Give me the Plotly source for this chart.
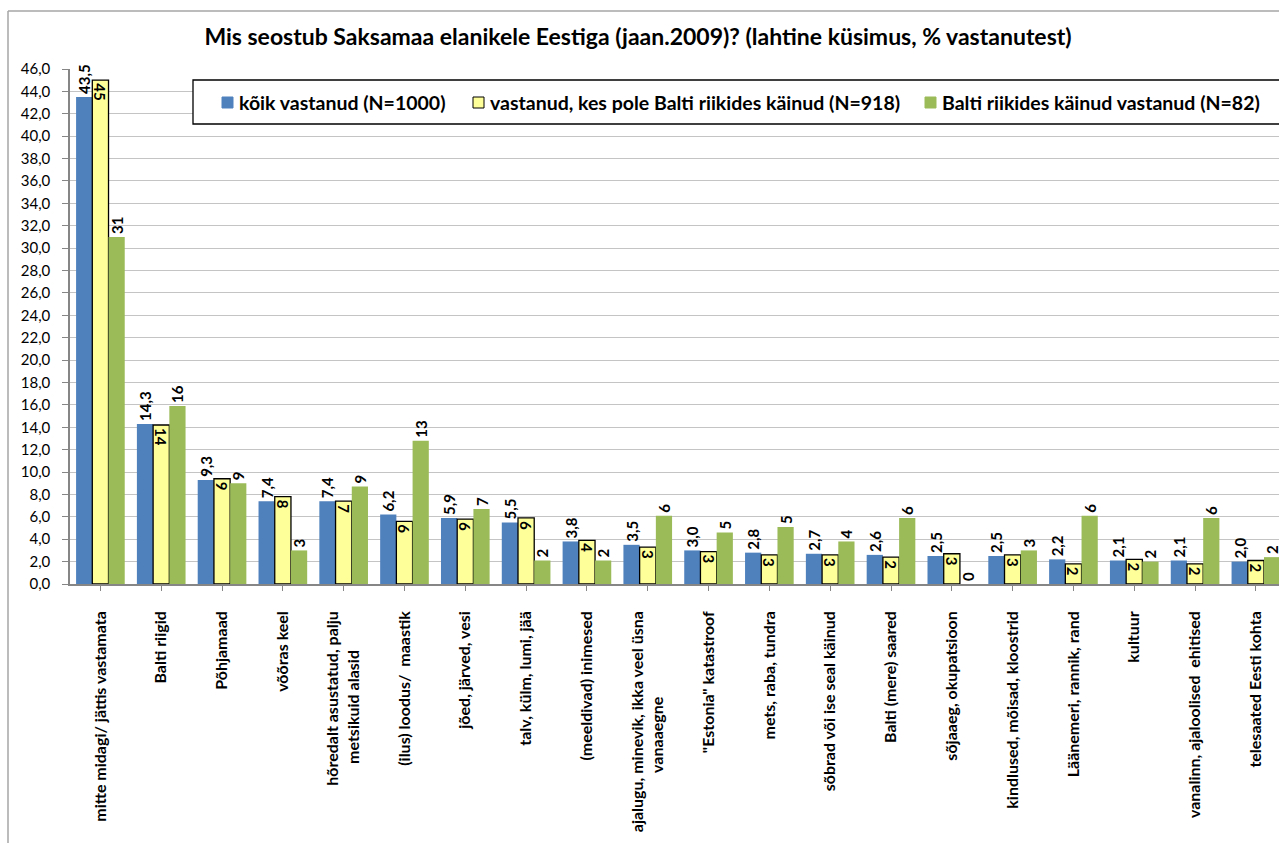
import plotly.graph_objects as go

categories = [
    "mitte midagi/ jättis vastamata",
    "Balti riigid",
    "Põhjamaad",
    "võõras keel",
    "hõredalt asustatud, palju<br>metsikuid alasid" + "\u00a0" * 10 + "\u200b",
    "(ilus) loodus/  maastik",
    "jõed, järved, vesi",
    "talv, külm, lumi, jää",
    "(meeldivad) inimesed",
    "ajalugu, minevik, ikka veel üsna<br>vanaaegne" + "\u00a0" * 22 + "\u200b",
    "\"Estonia\" katastroof",
    "mets, raba, tundra",
    "sõbrad või ise seal käinud",
    "Balti (mere) saared",
    "sõjaaeg, okupatsioon",
    "kindlused, mõisad, kloostrid",
    "Läänemeri, rannik, rand",
    "kultuur",
    "vanalinn, ajaloolised  ehitised",
    "telesaated Eesti kohta",
]

all_resp = [43.5, 14.3, 9.3, 7.4, 7.4, 6.2, 5.9, 5.5, 3.8, 3.5, 3.0, 2.8, 2.7, 2.6, 2.5, 2.5, 2.2, 2.1, 2.1, 2.0]
not_visited = [45.0, 14.2, 9.4, 7.8, 7.4, 5.6, 5.8, 5.9, 3.9, 3.3, 2.9, 2.6, 2.6, 2.4, 2.7, 2.6, 1.8, 2.2, 1.8, 2.1]
visited = [31.0, 15.9, 9.0, 3.0, 8.7, 12.8, 6.7, 2.1, 2.1, 6.1, 4.6, 5.1, 3.8, 5.9, 0.0, 3.0, 6.1, 2.0, 5.9, 2.4]

series_names = [
    "kõik vastanud (N=1000)",
    "vastanud, kes pole Balti riikides käinud (N=918)",
    "Balti riikides käinud vastanud (N=82)",
]
series_colors = ["#4F81BD", "#FFFF99", "#9BBB59"]

y_ticks = [i * 2 for i in range(24)]

FONT = "Lato"
W, H = 1279, 843
L, R, T, B = 70, 0, 69, 259
x_idx = list(range(len(categories)))

plot_w = W - L - R
plot_h = H - T - B
def px_x(px):
    return (px - L) / plot_w
def px_y(py):
    return (H - B - py) / plot_h

LBL = dict(family=FONT, size=15, color="black", weight="bold")

fig = go.Figure()
fig.add_trace(go.Bar(
    x=x_idx, y=all_resp, name=series_names[0],
    marker=dict(color=series_colors[0], line=dict(width=0)),
    texttemplate="%{y:.1f}", textposition="outside", textangle=-90,
    textfont=LBL, constraintext="none", cliponaxis=False,
))
fig.add_trace(go.Bar(
    x=x_idx, y=not_visited, name=series_names[1],
    marker=dict(color=series_colors[1], line=dict(width=1.3, color="black")),
    texttemplate="%{y:.0f}", textposition="inside", insidetextanchor="end", textangle=90,
    textfont=LBL, constraintext="none", cliponaxis=False,
))
fig.add_trace(go.Bar(
    x=x_idx, y=visited, name=series_names[2],
    marker=dict(color=series_colors[2], line=dict(width=0)),
    texttemplate="%{y:.0f}", textposition="outside", textangle=-90,
    textfont=LBL, constraintext="none", cliponaxis=False,
))

fig.update_layout(
    width=W, height=H,
    margin=dict(l=L, r=R, t=T, b=B, pad=0),
    paper_bgcolor="white", plot_bgcolor="white",
    separators=", ",
    barmode="group", bargap=0.2, bargroupgap=0,
    font=dict(family=FONT, color="black"),
    title=dict(
        text="<b>Mis seostub Saksamaa elanikele Eestiga (jaan.2009)? (lahtine küsimus, % vastanutest)</b>",
        x=px_x(638), xref="paper", xanchor="center", y=1 - 37 / H, yanchor="middle",
        font=dict(family=FONT, size=23, color="black"),
    ),
    showlegend=False,
    xaxis=dict(
        tickmode="array", tickvals=x_idx, ticktext=categories,
        range=[-0.5, 19.38], tickangle=-90,
        showline=True, linecolor="#868686", linewidth=1.5,
        ticks="outside", ticklen=5, tickcolor="#868686", tickson="boundaries",
        showgrid=False, zeroline=False,
        tickfont=dict(family=FONT, size=16, color="black", weight="bold"),
        ticklabelstandoff=14,
    ),
    yaxis=dict(
        range=[0, 46], tickvals=y_ticks, tickformat=".1f",
        showline=True, linecolor="#868686", linewidth=1.5,
        ticks="outside", ticklen=6, tickcolor="#868686",
        showgrid=True, gridcolor="#C4C4C4", gridwidth=1.3,
        zeroline=False,
        tickfont=dict(family=FONT, size=15, color="black"),
        ticklabelstandoff=9,
    ),
)

# chart-area frame (left and top edges visible, rest cropped)
fig.add_shape(type="line", xref="paper", yref="paper",
              x0=px_x(8), x1=px_x(8), y0=px_y(850), y1=px_y(11),
              line=dict(color="#A6A6A6", width=1.5))
fig.add_shape(type="line", xref="paper", yref="paper",
              x0=px_x(8), x1=px_x(1300), y0=px_y(11), y1=px_y(11),
              line=dict(color="#A6A6A6", width=1.5))

# legend box (extends past the right edge, as in the reference)
fig.add_shape(type="rect", xref="paper", yref="paper",
              x0=px_x(193), x1=px_x(1300), y0=px_y(124), y1=px_y(80),
              line=dict(color="black", width=1.3), fillcolor="white", layer="above")
legend_x = [222, 473, 925]
for name, col, lx in zip(series_names, series_colors, legend_x):
    fig.add_shape(type="rect", xref="paper", yref="paper",
                  x0=px_x(lx), x1=px_x(lx + 11), y0=px_y(108), y1=px_y(97),
                  line=dict(color="black" if col == "#FFFF99" else col, width=1),
                  fillcolor=col, layer="above")
    fig.add_annotation(xref="paper", yref="paper", x=px_x(lx + 15), y=px_y(102.5),
                       xanchor="left", yanchor="middle", showarrow=False,
                       text=name, font=dict(family=FONT, size=19.5, color="black", weight="bold"))

fig.write_html("out.html", config={"displayModeBar": False},
               post_script="document.body.style.margin='0';")
